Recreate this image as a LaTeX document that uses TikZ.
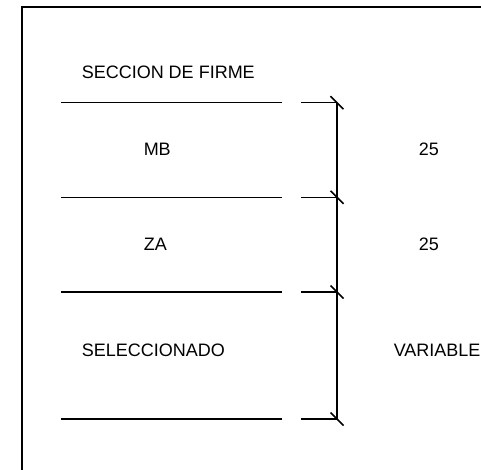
\documentclass[tikz,border=0pt]{standalone}
\usepackage{fontspec}
\setmainfont{Liberation Sans}
\usetikzlibrary{positioning}

\begin{document}
\begin{tikzpicture}[x=1pt,y=-1pt,line width=1.5pt]
      \useasboundingbox (0,0) rectangle (481,469);
      \begin{scope}[inner sep=0pt,font=\fontsize{18}{20}\selectfont]
          \tikzstyle{every node}=[anchor=west]
          \node (title)    at (81  ,72)   {SECCION DE FIRME};
          \node (mb)       at (143 ,149)  {MB};
          \node (za)       at (143 ,244)  {ZA};
          \node (sel)      at (81  ,350)  {SELECCIONADO};
          \node (mbval)    at (418 ,149)  {25};
          \node (zaval)    at (418 ,244)  {25};
          \node (selval)   at (393 ,350)  {VARIABLE};
      \end{scope}

      % frame
      \draw[line width=1.7pt] (21.7,475) |- (490,7.3);

      % layer limits
      \foreach \name/\y in {a/102.7,b/197.3,c/292,d/419} {
          \coordinate (l\name)  at (61 ,\y);
          \coordinate (m\name)  at (282,\y);
          \coordinate (s\name)  at (301,\y);
          \coordinate (t\name)  at (337,\y);
          \draw (l\name) -- (m\name);
          \draw (s\name) -- (t\name);
          \draw (t\name) +(-6.5,-6.5) -- +(6.5,6.5);
      }

      % dimension line
      \draw (ta) -- (td);
  \end{tikzpicture}
\end{document}
